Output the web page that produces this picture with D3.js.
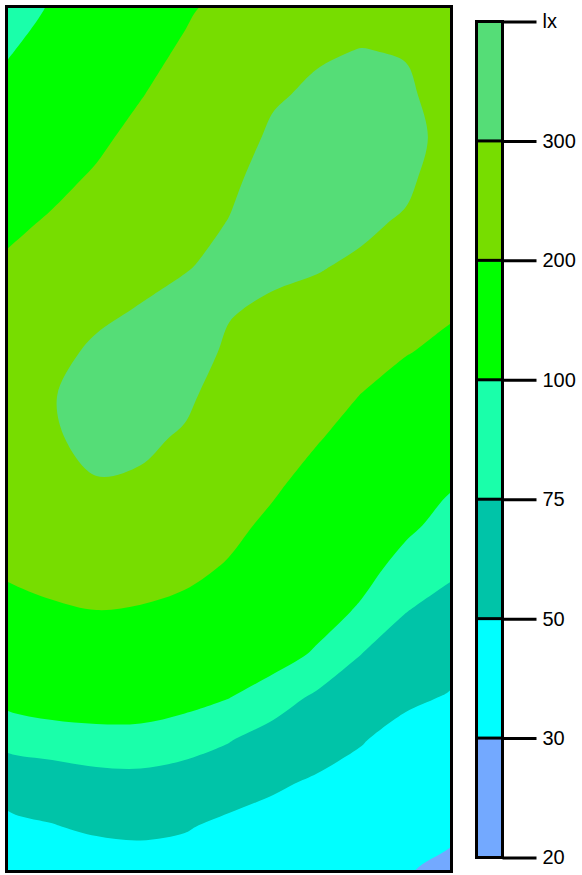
<!DOCTYPE html>
<html><head><meta charset="utf-8">
<script src="https://cdn.jsdelivr.net/npm/d3@7"></script>
<style>body{margin:0;background:#fff}</style>
</head><body>
<svg id="chart" width="582" height="875"></svg>
<script>
// Contour levels (lux) and colour bands
const levels = [20, 30, 50, 75, 100, 200, 300];
const tickLabels = ["20", "30", "50", "75", "100", "200", "300", "lx"];
const bandColors = ["#73a9ff", "#00ffff", "#00c4a8", "#1affaa", "#00ff00", "#77dd00", "#55dd77"];

// Illuminance grid (lux), 11 columns x 21 rows
const gridCols = 11, gridRows = 21;
const illuminance = [
  [90, 108, 136, 163, 191, 220, 240, 255, 275, 265, 250],
  [98.8, 128, 153, 180, 208, 237, 266, 293, 302, 296, 260],
  [120, 147, 171, 197, 226, 254, 293, 310, 317, 311, 270],
  [142, 167, 188, 217, 244, 272, 310, 324, 335, 325, 275],
  [165, 186, 208, 239, 262, 289, 324, 332, 328, 313, 262],
  [188, 207, 235, 261, 280, 302, 323, 318, 311, 292, 244],
  [209, 229, 262, 283, 298, 308, 309, 304, 290, 262, 225],
  [227, 252, 289, 303, 310, 303, 293, 281, 259, 232, 206],
  [246, 286, 309, 318, 320, 293, 272, 255, 229, 202, 188],
  [264, 297, 324, 330, 312, 271, 251, 229, 198, 178, 163],
  [258, 295, 312, 311, 293, 252, 230, 203, 178, 160, 138],
  [241, 270, 298, 293, 263, 233, 209, 181, 160, 141, 112],
  [223, 244, 264, 258, 238, 214, 188.5, 170, 148, 122, 91],
  [206, 219, 231, 227, 213, 195, 175, 158, 137, 90.5, 78.8],
  [187, 193, 199, 195, 187, 168, 160, 146, 96.3, 75.4, 67],
  [160, 172, 173, 170, 158, 140, 145, 96.3, 74.8, 65.3, 57.5],
  [132, 149, 147.5, 145, 129, 102, 86.3, 70.5, 63.3, 53.8, 48.8],
  [82.3, 88.8, 92.5, 92.5, 87.5, 75.8, 64.6, 60, 51, 44, 43.6],
  [56.8, 58, 63.8, 65.4, 59.5, 60, 53, 47.4, 44.4, 40, 38.2],
  [46.8, 49.4, 52.3, 53.3, 51.5, 46.2, 43.2, 40.6, 37.8, 36, 32.6],
  [38.2, 40.8, 43.2, 44.2, 42.6, 38.6, 35, 33, 31.4, 30.8, 28.6]
];

const svg = d3.select("#chart");
const plot = { x0: 8, y0: 8, x1: 450, y1: 870 };

const xs = d3.scaleLinear().domain([0.5, gridCols - 0.5]).range([plot.x0, plot.x1]);
const ys = d3.scaleLinear().domain([0.5, gridRows - 0.5]).range([plot.y0, plot.y1]);
const toLevel = d3.scaleLinear().domain(levels).range(d3.range(levels.length));

const flat = illuminance.flat().map(toLevel);
const contours = d3.contours()
  .size([gridCols, gridRows])
  .thresholds(d3.range(1, levels.length))(flat);

svg.append("defs").append("clipPath").attr("id", "plotClip")
  .append("rect")
  .attr("x", plot.x0).attr("y", plot.y0)
  .attr("width", plot.x1 - plot.x0).attr("height", plot.y1 - plot.y0);

const g = svg.append("g").attr("clip-path", "url(#plotClip)");
g.append("rect")
  .attr("x", plot.x0).attr("y", plot.y0)
  .attr("width", plot.x1 - plot.x0).attr("height", plot.y1 - plot.y0)
  .attr("fill", bandColors[0]);

const ringLine = d3.line()
  .x(p => xs(p[0])).y(p => ys(p[1]))
  .curve(d3.curveCatmullRomClosed.alpha(0.5));

contours.forEach((c, i) => {
  const d = c.coordinates.map(poly => poly.map(ring => ringLine(ring.slice(0, -1))).join("")).join("");
  g.append("path")
    .attr("d", d)
    .attr("fill", bandColors[i + 1])
    .attr("fill-rule", "evenodd");
});

// plot frame
svg.append("rect")
  .attr("x", plot.x0 - 1.5).attr("y", plot.y0 - 1.5)
  .attr("width", plot.x1 - plot.x0 + 3).attr("height", plot.y1 - plot.y0 + 3)
  .attr("fill", "none").attr("stroke", "#000").attr("stroke-width", 3);

// colour bar
const cbX = 476.5, cbW = 26;
const cb = d3.scaleLinear().domain([0, tickLabels.length - 1]).range([857.5, 21.5]);
const bar = svg.append("g");
bandColors.forEach((col, i) => {
  bar.append("rect")
    .attr("x", cbX).attr("y", cb(i + 1))
    .attr("width", cbW).attr("height", cb(i) - cb(i + 1))
    .attr("fill", col);
});
d3.range(1, levels.length).forEach(i => {
  bar.append("line")
    .attr("x1", cbX).attr("x2", cbX + cbW)
    .attr("y1", cb(i)).attr("y2", cb(i))
    .attr("stroke", "#000").attr("stroke-width", 3);
});
bar.append("rect")
  .attr("x", cbX).attr("y", cb(tickLabels.length - 1))
  .attr("width", cbW).attr("height", cb(0) - cb(tickLabels.length - 1))
  .attr("fill", "none").attr("stroke", "#000").attr("stroke-width", 3);

const axis = d3.axisRight(cb)
  .tickValues(d3.range(tickLabels.length))
  .tickFormat(i => tickLabels[i])
  .tickSize(34).tickPadding(6);
const ax = svg.append("g").attr("transform", `translate(${cbX + cbW},0)`).call(axis);
ax.select(".domain").remove();
ax.selectAll(".tick line").attr("stroke", "#000").attr("stroke-width", 3);
ax.selectAll(".tick text")
  .attr("fill", "#000")
  .style("font-family", "'Liberation Sans', Arial, sans-serif")
  .style("font-size", "20px");
</script>
</body></html>
